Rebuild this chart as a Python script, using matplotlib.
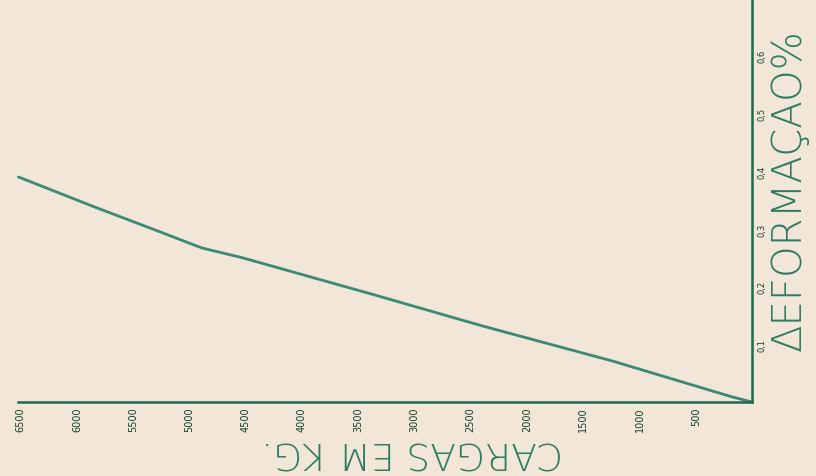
import matplotlib
matplotlib.use("Agg")
import matplotlib.pyplot as plt

# ---- data ----
carga_kg = [0, 180, 1240, 2400, 3380, 4530, 4890, 5330, 5870, 6520]
deformacao = [0.0, 0.009, 0.071, 0.132, 0.187, 0.250, 0.267, 0.300, 0.340, 0.390]

x_ticks = [500, 1000, 1500, 2000, 2500, 3000, 3500, 4000, 4500, 5000, 5500, 6000, 6500]
x_tick_labels = ["500", "1000", "1500", "2000", "2500", "3000", "3500",
                 "4000", "4500", "5000", "5500", "6000", "6500"]
y_ticks = [0.1, 0.2, 0.3, 0.4, 0.5, 0.6]
y_tick_labels = ["0,1", "0,2", "0,3", "0,4", "0,5", "0,6"]

x_label = "CARGAS EM KG."
y_label = "ΔEFORMAÇAO%"

# ---- style ----
bg = "#F1E6D8"
axis_col = "#1D6A4C"
line_col = "#3A8A74"
text_col = "#2E7C60"
tick_col = "#12402E"

fig = plt.figure(figsize=(8.16, 4.77), dpi=100, facecolor=bg)
ax = fig.add_axes([0.0, 74 / 477, 752 / 816, 403 / 477])
ax.set_facecolor(bg)

ax.plot(carga_kg, deformacao, color=line_col, lw=2.0, solid_capstyle="round")

ax.set_xlim(6684, 0)
ax.set_ylim(0, 403 / 57.7 * 0.1)

for s in ["top", "left"]:
    ax.spines[s].set_visible(False)
ax.spines["bottom"].set_color(axis_col)
ax.spines["bottom"].set_linewidth(1.8)
ax.spines["bottom"].set_bounds(0, 6520)
ax.spines["right"].set_color(axis_col)
ax.spines["right"].set_linewidth(1.8)

ax.set_xticks(x_ticks)
ax.set_xticklabels(x_tick_labels)
ax.tick_params(axis="x", length=0, pad=3, labelrotation=90, labelsize=7,
               labelcolor=tick_col)
ax.yaxis.tick_right()
ax.set_yticks(y_ticks)
ax.set_yticklabels(y_tick_labels)
ax.tick_params(axis="y", length=0, pad=4, labelrotation=90, labelsize=6,
               labelcolor=tick_col)
for lab in ax.get_yticklabels():
    lab.set_va("center")

fig.text(412 / 816, 1 - 452 / 477, x_label, rotation=180, ha="center", va="center",
         fontsize=27, color=text_col, fontweight="light")
fig.text(789 / 816, 1 - 190 / 477, y_label, rotation=90, ha="center", va="center",
         fontsize=29, color=text_col, fontweight="light")

fig.savefig("out.png", dpi=100, facecolor=bg)
